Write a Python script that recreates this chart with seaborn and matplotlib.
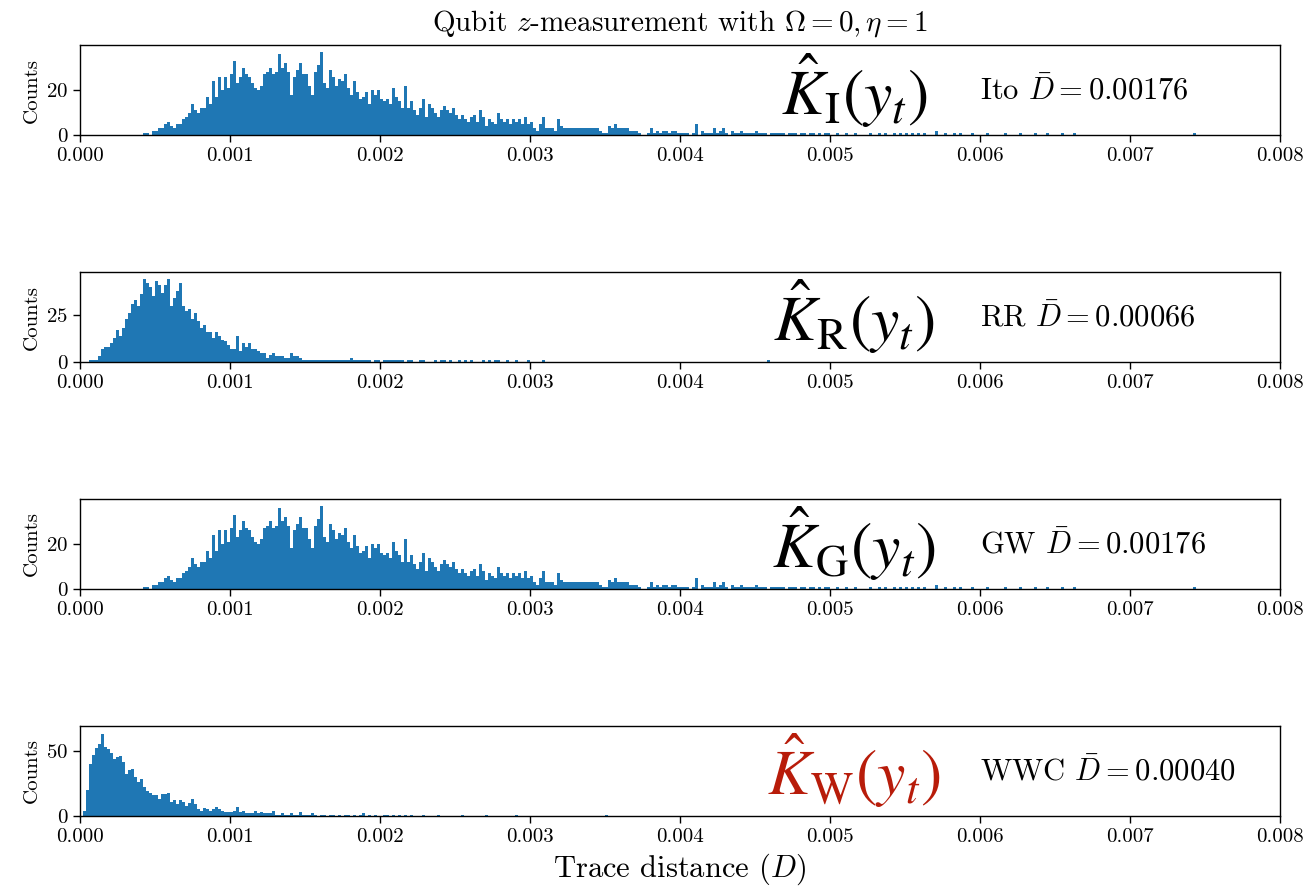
import numpy as np
import pandas as pd
import matplotlib
matplotlib.use("Agg")
import matplotlib.pyplot as plt
from matplotlib.ticker import FormatStrFormatter
import seaborn as sns

# ---------------- data ----------------
title_text = r"Qubit $z$-measurement with $\Omega=0, \eta=1$"
x_tick_values = [0.000, 0.001, 0.002, 0.003, 0.004, 0.005, 0.006, 0.007, 0.008]
panel_names = ["Ito", "RR", "GW", "WWC"]
kraus_labels = [r"$\hat{K}_{\mathrm{I}}(y_t)$", r"$\hat{K}_{\mathrm{R}}(y_t)$",
                r"$\hat{K}_{\mathrm{G}}(y_t)$", r"$\hat{K}_{\mathrm{W}}(y_t)$"]
mean_D = ["0.00176", "0.00066", "0.00176", "0.00040"]
y_tick_values = [[0, 20], [0, 25], [0, 20], [0, 50]]
y_limits = [40, 48, 40, 69]

bin_width = 0.00002
bin_start = [0.0004, 0.00004, 0.0004, 0.0]

ito_counts = [
    0, 1, 1, 0, 2, 2, 3, 3, 5, 6, 4, 3, 5, 5, 7, 8, 10, 14, 11, 10,
    12, 12, 17, 14, 24, 17, 26, 20, 26, 21, 27, 33, 23, 26, 30, 27, 26, 23, 21, 20,
    22, 27, 28, 30, 27, 28, 36, 30, 32, 28, 18, 26, 29, 32, 27, 27, 22, 18, 28, 31,
    37, 23, 21, 29, 26, 22, 25, 24, 27, 21, 18, 24, 19, 16, 17, 19, 14, 20, 18, 20,
    16, 15, 16, 14, 21, 17, 15, 12, 22, 12, 15, 11, 9, 12, 16, 8, 14, 12, 10, 8,
    11, 13, 11, 10, 12, 9, 7, 9, 7, 6, 8, 9, 6, 11, 8, 4, 7, 6, 5, 10,
    7, 6, 7, 5, 7, 6, 7, 5, 8, 5, 6, 3, 2, 5, 8, 3, 3, 3, 2, 7,
    4, 3, 3, 3, 3, 3, 3, 3, 3, 3, 3, 3, 3, 2, 1, 1, 4, 3, 5, 3,
    3, 3, 3, 2, 2, 2, 1, 0, 0, 1, 3, 1, 2, 1, 2, 2, 1, 2, 2, 1,
    1, 1, 1, 0, 1, 5, 0, 2, 1, 1, 1, 3, 1, 2, 3, 1, 0, 2, 1, 1,
    2, 1, 1, 1, 1, 2, 1, 1, 1, 0, 1, 1, 1, 1, 1, 0, 1, 1, 1, 0,
    1, 1, 0, 1, 1, 0, 1, 0, 1, 1, 0, 0, 1, 0, 0, 1, 0, 0, 1, 0,
    0, 0, 0, 1, 0, 0, 1, 0, 1, 0, 0, 1, 0, 1, 0, 1, 0, 1, 0, 1,
    0, 1, 0, 0, 0, 2, 0, 0, 1, 0, 0, 1, 0, 1, 0, 0, 0, 1, 0, 0,
    0, 0, 1, 0, 0, 0, 0, 0, 1, 0, 0, 0, 0, 1, 0, 0, 0, 0, 1, 0,
    0, 0, 1, 0, 0, 0, 0, 1, 0, 0, 0, 1, 0, 0, 0, 0, 0, 0, 0, 0,
    0, 0, 0, 0, 0, 0, 0, 0, 0, 0, 0, 0, 0, 0, 0, 0, 0, 0, 0, 0,
    0, 0, 0, 0, 0, 0, 0, 0, 0, 0, 0, 1,
]

rr_counts = [
    0, 1, 1, 1, 3, 7, 8, 8, 10, 13, 17, 14, 18, 23, 26, 31, 33, 30, 36, 44,
    42, 40, 35, 43, 41, 37, 41, 44, 30, 34, 38, 42, 30, 27, 28, 23, 26, 22, 18, 20,
    16, 16, 13, 16, 14, 12, 11, 9, 7, 7, 14, 6, 10, 8, 10, 7, 7, 6, 5, 5,
    2, 4, 5, 3, 3, 3, 2, 2, 5, 3, 3, 2, 1, 1, 1, 1, 1, 1, 1, 1,
    1, 1, 1, 1, 1, 1, 1, 1, 2, 1, 1, 1, 1, 1, 1, 0, 1, 1, 0, 1,
    1, 1, 1, 1, 1, 1, 0, 1, 1, 0, 0, 1, 1, 0, 0, 0, 1, 0, 1, 1,
    0, 1, 0, 0, 1, 0, 1, 0, 1, 0, 0, 0, 1, 0, 1, 0, 1, 1, 0, 0,
    1, 0, 0, 1, 0, 0, 0, 1, 0, 0, 0, 0, 1, 0, 0, 0, 0, 0, 0, 0,
    0, 0, 0, 0, 0, 0, 0, 0, 0, 0, 0, 0, 0, 0, 0, 0, 0, 0, 0, 0,
    0, 0, 0, 0, 0, 0, 0, 0, 0, 0, 0, 0, 0, 0, 0, 0, 0, 0, 0, 0,
    0, 0, 0, 0, 0, 0, 0, 0, 0, 0, 0, 0, 0, 0, 0, 0, 0, 0, 0, 0,
    0, 0, 0, 0, 0, 0, 0, 1,
]

gw_counts = list(ito_counts)  # the GW panel shows the same histogram as Ito

wwc_counts = [
    0, 4, 20, 40, 47, 52, 55, 63, 53, 51, 48, 44, 45, 46, 41, 32, 35, 36, 30, 26,
    28, 22, 19, 18, 16, 16, 13, 17, 17, 18, 11, 12, 9, 12, 11, 8, 10, 13, 9, 5,
    4, 6, 5, 4, 5, 7, 5, 4, 3, 3, 3, 4, 7, 3, 4, 2, 2, 2, 4, 2,
    3, 2, 2, 2, 4, 1, 1, 2, 1, 1, 2, 1, 1, 3, 1, 1, 1, 2, 1, 0,
    1, 1, 0, 1, 1, 0, 1, 0, 1, 1, 0, 1, 0, 1, 2, 0, 1, 0, 1, 0,
    0, 1, 1, 0, 1, 0, 1, 0, 1, 0, 1, 0, 0, 0, 1, 0, 0, 0, 0, 1,
    0, 0, 0, 0, 0, 0, 0, 1, 0, 0, 0, 0, 0, 0, 0, 1, 0, 0, 0, 0,
    0, 0, 0, 0, 0, 1, 0, 0, 0, 0, 0, 0, 0, 0, 0, 0, 0, 0, 0, 0,
    0, 0, 0, 0, 0, 0, 0, 0, 0, 0, 0, 0, 0, 0, 0, 1,
]

all_counts = [ito_counts, rr_counts, gw_counts, wwc_counts]

# ---------------- style ----------------
sns.set_style("ticks")
plt.rcParams.update({
    "font.family": "serif",
    "font.serif": ["cmr10", "DejaVu Serif"],
    "mathtext.fontset": "cm",
    "axes.formatter.use_mathtext": True,
    "axes.unicode_minus": False,
    "axes.edgecolor": "black",
    "axes.labelcolor": "black",
    "text.color": "black",
    "axes.linewidth": 1.0,
    "xtick.color": "black",
    "ytick.color": "black",
    "xtick.major.size": 5,
    "ytick.major.size": 5,
    "xtick.major.width": 1.0,
    "ytick.major.width": 1.0,
    "xtick.labelsize": 15,
    "ytick.labelsize": 15,
})

bar_color = "#1f77b4"
label_colors = ["black", "black", "black", "#b81c0a"]

fig, axes = plt.subplots(4, 1, figsize=(13.1, 8.89), dpi=100)
fig.subplots_adjust(left=0.0611, right=0.977, top=0.9494, bottom=0.0821, hspace=1.52)

for i, ax in enumerate(axes):
    counts = all_counts[i]
    edges = bin_start[i] + bin_width * np.arange(len(counts) + 1)
    centers = 0.5 * (edges[:-1] + edges[1:])
    df = pd.DataFrame({"D": centers, "count": np.asarray(counts, dtype=float)})
    sns.histplot(data=df, x="D", weights="count", bins=[float(e) for e in edges], ax=ax,
                 color=bar_color, alpha=1.0, linewidth=0, edgecolor="none")
    ax.set_xlim(0, 0.008)
    ax.set_xticks(x_tick_values)
    ax.xaxis.set_major_formatter(FormatStrFormatter("%.3f"))
    ax.set_ylim(0, y_limits[i])
    ax.set_yticks(y_tick_values[i])
    ax.set_ylabel("Counts", fontsize=15)
    ax.set_xlabel("")
    ax.text(0.645, 0.5, kraus_labels[i], transform=ax.transAxes,
            ha="center", va="center", fontsize=46, color=label_colors[i],
            math_fontfamily="stix")
    ax.text(0.75, 0.5, panel_names[i] + r" $\bar{D}=" + mean_D[i] + "$",
            transform=ax.transAxes, ha="left", va="center", fontsize=22)

axes[0].set_title(title_text, fontsize=21, pad=10)
axes[-1].set_xlabel(r"Trace distance ($D$)", fontsize=22)

fig.savefig("out.png", dpi=100)
